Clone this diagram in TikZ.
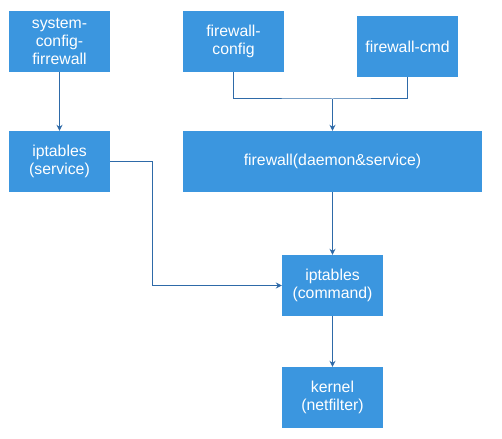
\documentclass[tikz,border=0pt]{standalone}
\usepackage{fontspec}
\setmainfont{Liberation Sans}
\usepackage{tikz}
\usetikzlibrary{arrows.meta, positioning}
\usepackage{xcolor}
\definecolor{boxblue}{HTML}{3B96DF}
\definecolor{linkblue}{HTML}{2E6AA8}

\begin{document}
\begin{tikzpicture}[
    x=1pt, y=-1pt,
    box/.style={fill=boxblue, text=white, minimum width=101pt, minimum height=61pt, inner sep=0pt, align=center, font=\fontsize{15.8}{18.3}\selectfont},
    arr/.style={-{Stealth[length=6pt, width=6pt]}, draw=linkblue, line width=1pt},
    link/.style={draw=linkblue, line width=1pt}
]
\useasboundingbox (0,0) rectangle (502,438);
\node[box] (sys) at (59.5,41.5) {system-\\config-\\firrewall};
\node[box] (fwconf) at (233.5,41.5) {firewall-\\config};
\node[box] (fwcmd) at (407.5,46.5) {firewall-cmd};
\node[box] (svc) at (59.5,161.5) {iptables\\(service)};
\node[box, minimum width=299pt] (daemon) at (332.5,161.5) {firewall(daemon\&service)};
\node[box] (cmd) at (332.5,285.5) {iptables\\(command)};
\node[box] (kernel) at (332.5,397.5) {kernel\\(netfilter)};
\coordinate (merge) at (332.5,99);
\coordinate (turn) at (152.5,161.5);
\draw[arr] (sys) -- (svc);
\draw[link] (fwconf.south) |- (merge) -| (fwcmd.south);
\draw[arr] (merge) -- (daemon);
\draw[arr] (svc.east) -- (turn) |- (cmd.west);
\draw[arr] (daemon) -- (cmd);
\draw[arr] (cmd) -- (kernel);
\end{tikzpicture}
\end{document}
